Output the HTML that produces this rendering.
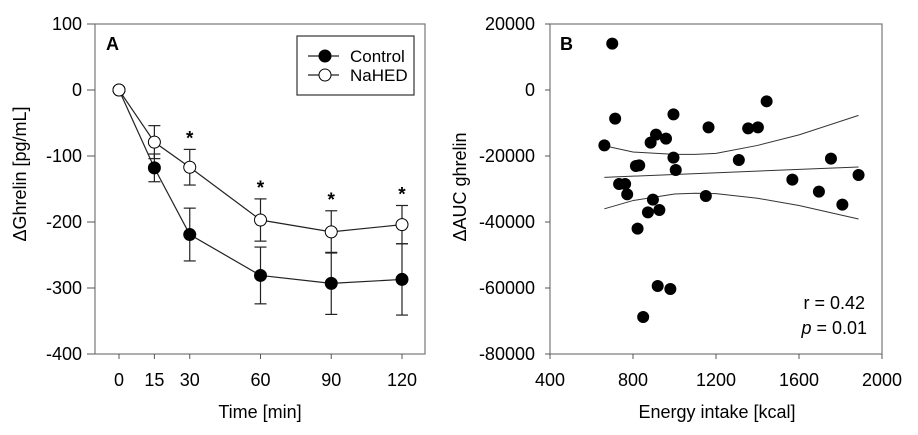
<!DOCTYPE html>
<html><head><meta charset="utf-8"><style>
html,body{margin:0;padding:0;background:#fff;}
svg{display:block;font-family:"Liberation Sans",sans-serif;}
</style></head><body>
<svg id="c" width="918" height="435" viewBox="0 0 918 435"></svg>
<script>
const times=[0,15,30,60,90,120];
const controlMean=[0,-118,-219,-281,-293,-287];
const controlErr=[0,21,40,43,47,54];
const nahedMean=[0,-79,-117,-197,-215,-204];
const nahedErr=[0,25,27,32,32,29];
const sigFlags=[0,0,1,1,1,1];
const aYTicks=[100,0,-100,-200,-300,-400];
const aXTicks=[0,15,30,60,90,120];

const energy=[700,714,662,733,762,772,814,830,822,872,885,896,911,927,919,959,995,995,1006,980,849,1164,1151,1310,1355,1402,1444,1568,1696,1754,1809,1887];
const aucGhrelin=[14040,-8690,-16770,-28480,-28480,-31610,-23030,-22830,-42020,-37070,-15960,-33230,-13530,-36360,-59390,-14750,-7370,-20500,-24240,-60300,-68780,-11310,-32120,-21210,-11620,-11310,-3430,-27170,-30810,-20810,-34740,-25760];
const fitX=[662,1887];
const fitY=[-26460,-23330];
const bandX=[662,800,1000,1100,1200,1400,1600,1887];
const bandUpper=[-16900,-18800,-19500,-19500,-19200,-16800,-13600,-7700];
const bandLower=[-36000,-33500,-31500,-31300,-31400,-32800,-35000,-39100];
const bYTicks=[20000,0,-20000,-40000,-60000,-80000];
const bXTicks=[400,800,1200,1600,2000];

const NS="http://www.w3.org/2000/svg";
const svg=document.getElementById('c');
function el(tag,attrs,parent,text){const e=document.createElementNS(NS,tag);for(const k in attrs)e.setAttribute(k,attrs[k]);if(text!==undefined)e.textContent=text;(parent||svg).appendChild(e);return e;}

const FS=18;
const AL=95,AR=425,AT=24,AB=354;
const ax=t=>119+(t-0)*(402-119)/120;
const ay=v=>AT+(100-v)*(AB-AT)/500;
const BL=550,BR=882,BT=24,BB=354;
const bx=v=>BL+(v-400)*(BR-BL)/1600;
const by=v=>BT+(20000-v)*(BB-BT)/100000;

// Panel A
const gA=el('g',{},svg);


const frA=el('rect',{x:AL,y:AT,width:AR-AL,height:AB-AT,fill:'none',stroke:'#777','stroke-width':1.2},gA);

aYTicks.forEach(v=>{
  el('line',{x1:AL-8,x2:AL,y1:ay(v),y2:ay(v),stroke:'#555'},gA);
  const t=el('text',{x:AL-13,y:ay(v)+6,'text-anchor':'end','font-size':FS},gA,String(v));
  
});
aXTicks.forEach(v=>{
  el('line',{x1:ax(v),x2:ax(v),y1:AB,y2:AB+5,stroke:'#555'},gA);
  const t=el('text',{x:ax(v),y:386,'text-anchor':'middle','font-size':FS},gA,String(v));
  
});
const yt=el('text',{transform:'translate(26,174) rotate(-90)','text-anchor':'middle','font-size':FS},gA,'ΔGhrelin [pg/mL]');

const xt=el('text',{x:260,y:418,'text-anchor':'middle','font-size':FS},gA,'Time [min]');

const la=el('text',{x:106,y:50,'font-size':18,'font-weight':'bold'},gA,'A');


function series(mean,err,fill,name){
  const g=el('g',{},gA);
  
  times.forEach((t,i)=>{
    if(err[i]>0){
      const x=ax(t),y1=ay(mean[i]+err[i]),y2=ay(mean[i]-err[i]);
      el('line',{x1:x,x2:x,y1:y1,y2:y2,stroke:'#222','stroke-width':1.2},g);
      el('line',{x1:x-6,x2:x+6,y1:y1,y2:y1,stroke:'#222','stroke-width':1.2},g);
      el('line',{x1:x-6,x2:x+6,y1:y2,y2:y2,stroke:'#222','stroke-width':1.2},g);
    }
  });
  const pts=times.map((t,i)=>ax(t)+','+ay(mean[i])).join(' ');
  const pl=el('polyline',{points:pts,fill:'none',stroke:'#222','stroke-width':1.2},g);
  
  times.forEach((t,i)=>{
    const c=el('circle',{cx:ax(t),cy:ay(mean[i]),r:6,fill:fill,stroke:'#000','stroke-width':1},g);
    
  });
}
series(controlMean,controlErr,'#000','control');
series(nahedMean,nahedErr,'#fff','nahed');
times.forEach((t,i)=>{
  if(sigFlags[i]){
    const s=el('text',{x:ax(t),y:ay(nahedMean[i]+nahedErr[i])-5,'text-anchor':'middle','font-size':19,'font-weight':'bold'},gA,'*');
    
  }
});
const lg=el('g',{},gA);

el('rect',{x:297,y:36,width:117,height:59,fill:'#fff',stroke:'#333','stroke-width':1.2},lg);
[['Control','#000',56],['NaHED','#fff',75]].forEach(([n,f,y])=>{
  const e=el('g',{},lg);
  
  el('line',{x1:308,x2:339,y1:y,y2:y,stroke:'#222','stroke-width':1.2},e);
  el('circle',{cx:325,cy:y,r:6,fill:f,stroke:'#000'},e);
  el('text',{x:350,y:y+6,'font-size':17},e,n);
});

// Panel B
const gB=el('g',{},svg);

const frB=el('rect',{x:BL,y:BT,width:BR-BL,height:BB-BT,fill:'none',stroke:'#777','stroke-width':1.2},gB);

bYTicks.forEach(v=>{
  el('line',{x1:BL-5,x2:BL,y1:by(v),y2:by(v),stroke:'#555'},gB);
  const t=el('text',{x:BL-15,y:by(v)+6,'text-anchor':'end','font-size':FS},gB,String(v));
  
});
bXTicks.forEach(v=>{
  el('line',{x1:bx(v),x2:bx(v),y1:BB,y2:BB+5,stroke:'#555'},gB);
  const t=el('text',{x:bx(v),y:386,'text-anchor':'middle','font-size':FS},gB,String(v));
  
});
const ytb=el('text',{transform:'translate(466,187) rotate(-90)','text-anchor':'middle','font-size':FS},gB,'ΔAUC ghrelin');

const xtb=el('text',{x:717,y:418,'text-anchor':'middle','font-size':FS},gB,'Energy intake [kcal]');

const lb=el('text',{x:560,y:50,'font-size':18,'font-weight':'bold'},gB,'B');


const fit=el('line',{x1:bx(fitX[0]),y1:by(fitY[0]),x2:bx(fitX[1]),y2:by(fitY[1]),stroke:'#333','stroke-width':1},gB);

function band(arr,name){
  const d=bandX.map((x,i)=>bx(x)+','+by(arr[i])).join(' ');
  const p=el('polyline',{points:d,fill:'none',stroke:'#333','stroke-width':1,'stroke-linejoin':'round'},gB);
  
}
band(bandUpper,'confidence-upper');
band(bandLower,'confidence-lower');
energy.forEach((x,i)=>{
  const c=el('circle',{cx:bx(x),cy:by(aucGhrelin[i]),r:6,fill:'#000'},gB);
  
});
const rt=el('text',{x:865,y:309,'text-anchor':'end','font-size':FS},gB,'r = 0.42');

const pt=el('text',{x:867,y:334,'text-anchor':'end','font-size':FS},gB);

el('tspan',{'font-style':'italic'},pt,'p');
el('tspan',{},pt,' = 0.01');
</script>
</body></html>
